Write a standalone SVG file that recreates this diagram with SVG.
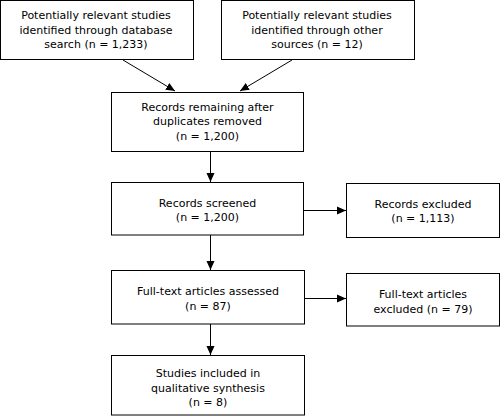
<svg xmlns="http://www.w3.org/2000/svg" width="501" height="416" viewBox="0 0 501 416">
<style>
.box{fill:#fff;stroke:#000;stroke-width:1}
.t{font-family:"DejaVu Sans",Verdana,sans-serif;font-size:11px;fill:#000;text-anchor:middle}
.c{stroke:#000;stroke-width:1;fill:none;marker-end:url(#ah)}
</style>
<defs>
<marker id="ah" markerUnits="userSpaceOnUse" markerWidth="10" markerHeight="10" viewBox="0 0 10 10" refX="9" refY="5" orient="auto">
<path d="M0,1 L9,5 L0,9 Z" fill="#000"/>
</marker>
</defs>
<rect width="501" height="416" fill="#fff"/>
<g id="connectors">
<line class="c" x1="123" y1="60" x2="175" y2="91"/>
<line class="c" x1="292" y1="60" x2="240" y2="91"/>
<line class="c" x1="210.5" y1="152" x2="210.5" y2="182"/>
<line class="c" x1="210.5" y1="235" x2="210.5" y2="270"/>
<line class="c" x1="303.5" y1="210.5" x2="346" y2="210.5"/>
<line class="c" x1="210.5" y1="324" x2="210.5" y2="355"/>
<line class="c" x1="304" y1="298.5" x2="346" y2="298.5"/>
</g>
<g id="n1">
<rect class="box" x="0.5" y="0.5" width="193" height="59"/>
<text class="t" x="96" y="19">Potentially relevant studies</text>
<text class="t" x="96" y="33.5">identified through database</text>
<text class="t" x="96" y="48">search (n = 1,233)</text>
</g>
<g id="n2">
<rect class="box" x="221.5" y="0.5" width="193" height="59"/>
<text class="t" x="317" y="19">Potentially relevant studies</text>
<text class="t" x="317" y="33.5">identified through other</text>
<text class="t" x="317" y="48">sources (n = 12)</text>
</g>
<g id="n3">
<rect class="box" x="111.5" y="92.5" width="192" height="59"/>
<text class="t" x="207.5" y="110.5">Records remaining after</text>
<text class="t" x="207.5" y="125">duplicates removed</text>
<text class="t" x="207.5" y="139.5">(n = 1,200)</text>
</g>
<g id="n4">
<rect class="box" x="111.5" y="182.5" width="192" height="52.5"/>
<text class="t" x="207.5" y="206.5">Records screened</text>
<text class="t" x="207.5" y="221">(n = 1,200)</text>
</g>
<g id="n5">
<rect class="box" x="346.5" y="183.5" width="153" height="54"/>
<text class="t" x="423" y="207.5">Records excluded</text>
<text class="t" x="423" y="222">(n = 1,113)</text>
</g>
<g id="n6">
<rect class="box" x="111.5" y="270.5" width="193" height="53.5"/>
<text class="t" x="208" y="295">Full-text articles assessed</text>
<text class="t" x="208" y="309.5">(n = 87)</text>
</g>
<g id="n7">
<rect class="box" x="346.5" y="273.5" width="153" height="52.5"/>
<text class="t" x="423" y="298">Full-text articles</text>
<text class="t" x="423" y="312.5">excluded (n = 79)</text>
</g>
<g id="n8">
<rect class="box" x="111.5" y="355.5" width="193" height="59.5"/>
<text class="t" x="208" y="377">Studies included in</text>
<text class="t" x="208" y="391.5">qualitative synthesis</text>
<text class="t" x="208" y="406">(n = 8)</text>
</g>
</svg>
